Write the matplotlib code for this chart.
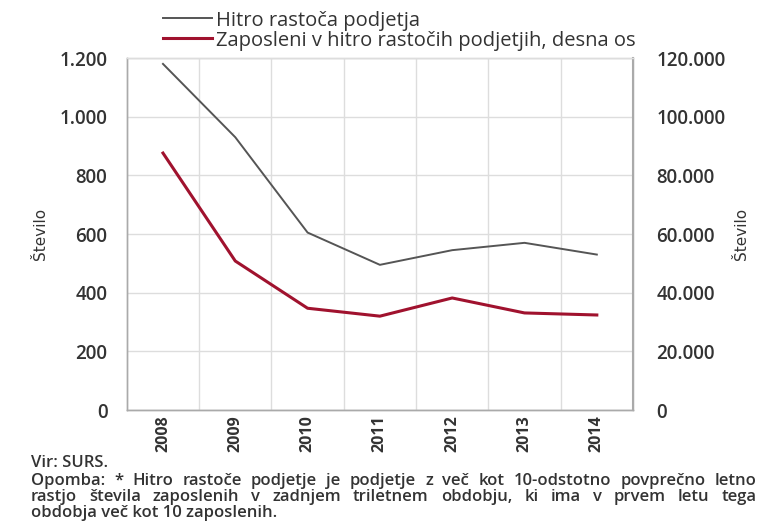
import matplotlib.pyplot as plt
from matplotlib.ticker import FuncFormatter

plt.rcParams['font.family'] = ['Open Sans', 'DejaVu Sans']

years = ['2008', '2009', '2010', '2011', '2012', '2013', '2014']
podjetja = [1180, 930, 605, 495, 545, 570, 530]
zaposleni = [87600, 50800, 34700, 32000, 38200, 33100, 32400]

label_podjetja = 'Hitro rastoča podjetja'
label_zaposleni = 'Zaposleni v hitro rastočih podjetjih, desna os'
note_lines = [
    'Opomba: * Hitro rastoče podjetje je podjetje z več kot 10-odstotno povprečno letno',
    'rastjo števila zaposlenih v zadnjem triletnem obdobju, ki ima v prvem letu tega',
    'obdobja več kot 10 zaposlenih.',
]

text_col = '#333333'
grid_col = '#dddddd'

fig = plt.figure(figsize=(7.64, 5.21), dpi=100)
ax = fig.add_axes([0.166, 0.213, 0.6625, 0.6756])
ax2 = ax.twinx()

x = list(range(len(years)))
l1, = ax.plot(x, podjetja, color='#555555', lw=1.4)
l2, = ax2.plot(x, zaposleni, color='#a0122e', lw=2.2)

ax.set_xlim(-0.5, len(years) - 0.5)
ax.set_ylim(0, 1200)
ax2.set_ylim(0, 120000)
ax.set_yticks(range(0, 1201, 200))
ax2.set_yticks(range(0, 120001, 20000))

dots = FuncFormatter(lambda v, p: f'{int(v):,}'.replace(',', '.'))
ax.yaxis.set_major_formatter(dots)
ax2.yaxis.set_major_formatter(dots)

ax.set_xticks(x)
ax.set_xticklabels(years, rotation=90, fontsize=11.5, color=text_col, fontweight='bold')
ax.set_xticks([i + 0.5 for i in x[:-1]], minor=True)
ax.tick_params(axis='x', which='both', length=0, pad=4)
ax.tick_params(axis='y', length=0, pad=14, labelsize=13.5, labelcolor=text_col)
ax2.tick_params(axis='y', length=0, pad=17, labelsize=13.5, labelcolor=text_col)
for t in ax.get_yticklabels() + ax2.get_yticklabels():
    t.set_fontweight('semibold')

ax.grid(axis='y', which='major', color=grid_col, lw=1)
ax.grid(axis='x', which='minor', color=grid_col, lw=1)
ax.set_axisbelow(True)

for a in (ax, ax2):
    for s in a.spines.values():
        s.set_color('#aaaaaa')
        s.set_linewidth(1)
    a.spines['top'].set_color(grid_col)
ax2.spines['right'].set_linewidth(1.5)

narrow = ['Liberation Sans Narrow', 'DejaVu Sans']
ax.set_ylabel('Število', fontsize=11, color=text_col, family=narrow, labelpad=8)
ax2.set_ylabel('Število', fontsize=11, color=text_col, family=narrow, labelpad=6)

fig.legend([l1, l2], [label_podjetja, label_zaposleni], loc='upper left',
           bbox_to_anchor=(0.198, 1.003), frameon=False, fontsize=14.5,
           handlelength=2.4, handletextpad=0.2, labelspacing=0.0, labelcolor=text_col,
           borderaxespad=0.2)

fs_note = 12
fig.text(0.04, 0.104, 'Vir: SURS.', fontsize=fs_note, color=text_col, fontweight='semibold')

# justified footnote
fig.canvas.draw()
r = fig.canvas.get_renderer()
x0, x1 = 0.04, 0.99
ys = [0.070, 0.039, 0.008]
for k, line in enumerate(note_lines):
    y = ys[k]
    if k == len(note_lines) - 1:
        fig.text(x0, y, line, fontsize=fs_note, color=text_col, fontweight='semibold')
        continue
    words = line.split(' ')
    arts = [fig.text(0, y, w, fontsize=fs_note, color=text_col, fontweight='semibold') for w in words]
    widths = [a.get_window_extent(r).width / fig.bbox.width for a in arts]
    gap = (x1 - x0 - sum(widths)) / (len(words) - 1)
    pos = x0
    for a, w in zip(arts, widths):
        a.set_x(pos)
        pos += w + gap

fig.savefig('out.png', dpi=100, facecolor='white')
